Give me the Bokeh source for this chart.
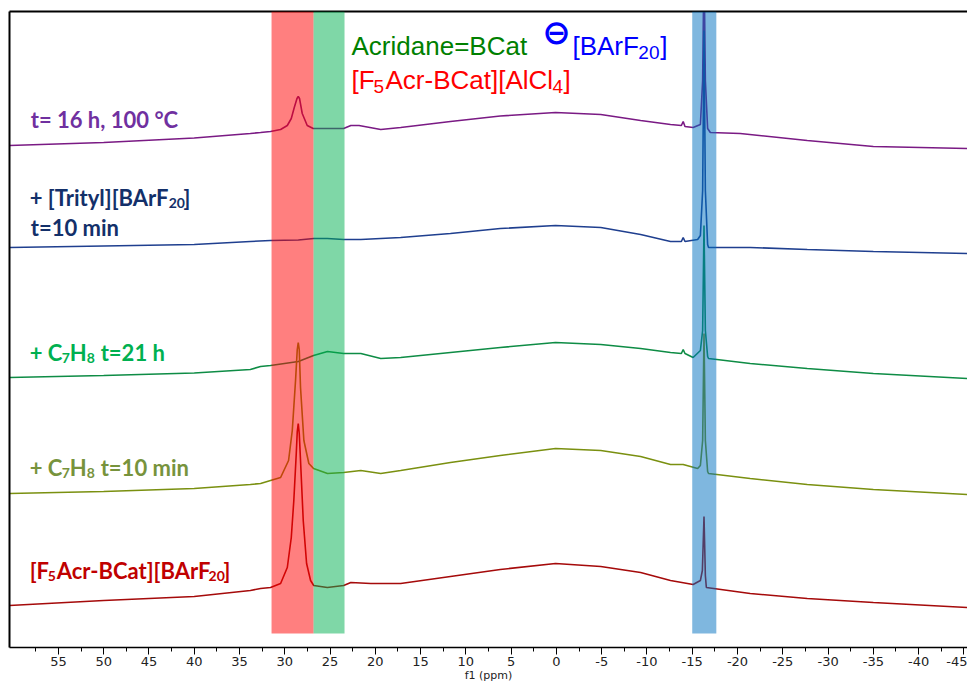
from bokeh.plotting import figure
from bokeh.models import (Range1d, LinearAxis, FixedTicker, BoxAnnotation, Label)
from bokeh.embed import file_html
from bokeh.resources import INLINE

# 11B NMR stack (chemical shift in ppm, stacked intensity in display units)

# t = 16 h, 100 °C
ppm_16h = [60.4, 50, 40, 33.8, 32.67, 31.57, 30.46, 29.72, 29.28, 28.95, 28.65, 28.51, 28.37,
           28.07, 27.52, 26.86, 25.3, 23.5, 22.7, 21.8, 19.4, 17.2, 11.7, 6.2, 0.1, -4.9,
           -9.3, -12.6, -13.8, -14.0, -14.2, -15.1, -15.9, -16.15, -16.3, -16.45, -16.7,
           -17.0, -20.3, -27.7, -35.0, -45.4]
int_16h = [502, 505, 509.5, 514, 515, 516, 518, 522, 529, 540, 549, 551, 549,
           534, 522, 519, 519, 519, 522, 522, 518, 520, 526, 531.5, 535, 533,
           527, 523, 522, 526, 521, 520, 523, 567, 687, 567, 519,
           515, 514, 507, 501, 499]

# + [Trityl][BArF20], t = 10 min
ppm_trityl = [60.4, 50, 40, 33.8, 31.57, 28.5, 26.8, 25.3, 23.5, 21.6, 17.2, 11.7, 6.2, 0.1,
              -4.9, -9.3, -12.6, -13.8, -14.0, -14.2, -15.6, -15.9, -16.15, -16.3, -16.45,
              -16.7, -16.8, -21.4, -27.7, -35.0, -45.4]
int_trityl = [400, 401.5, 403, 406, 407, 407.5, 409, 409, 408, 408, 410, 414, 419, 422,
              420, 413, 406, 406, 410, 406, 408, 412, 457, 617, 457,
              403, 400, 400, 398, 396, 394]

# + C7H8, t = 21 h
ppm_21h = [60.4, 50, 40, 33.8, 32.67, 31.57, 28.5, 26.82, 25.28, 23.5, 21.6, 19.4, 17.2, 11.7,
           6.2, 0.1, -4.9, -9.3, -12.6, -13.8, -14.0, -14.2, -15.1, -15.9, -16.15, -16.3,
           -16.45, -16.7, -16.8, -21.4, -27.7, -35.0, -45.4]
int_21h = [270, 272, 274.5, 278, 281, 282, 286, 292, 296, 294, 294, 289, 290, 295,
           300, 305, 303, 299, 295, 294, 298, 294, 290, 297, 317, 422,
           317, 291, 289, 284, 279, 274, 269]

# + C7H8, t = 10 min
ppm_10min = [60.4, 50, 40, 33.8, 32.67, 31.57, 30.46, 29.58, 29.17, 28.81, 28.62, 28.51, 28.4,
             28.26, 27.89, 27.34, 26.82, 25.28, 23.5, 21.6, 19.4, 17.2, 11.7, 6.2, 0.1, -4.9,
             -9.3, -12.6, -14.0, -15.6, -15.9, -16.15, -16.3, -16.45, -16.7, -16.8, -21.4,
             -27.7, -35.0, -45.4]
int_10min = [154, 156, 159, 163, 164, 167, 170, 187, 217, 267, 298, 305, 298,
             260, 207, 184, 179, 174, 175, 177, 174, 177, 185, 192, 199, 197,
             191, 183, 183, 179, 182, 207, 314, 207, 176, 174, 169,
             163, 158, 153]

# [F5Acr-BCat][BArF20]
ppm_start = [60.4, 50, 40, 33.8, 32.67, 31.57, 30.46, 29.72, 29.28, 29.0, 28.73, 28.62, 28.51,
             28.4, 28.26, 27.96, 27.59, 27.15, 26.8, 25.3, 23.5, 22.7, 20.5, 17.2, 11.7, 6.2,
             0.1, -4.9, -9.3, -12.6, -15.1, -15.9, -16.12, -16.3, -16.45, -16.56, -21.4,
             -27.7, -35.0, -45.4]
int_start = [42, 47, 51, 57, 59, 60, 64, 80, 110, 147, 194, 216, 224,
             214, 187, 127, 84, 67, 62, 60, 62, 65, 64, 64, 71, 78,
             84, 81, 75, 67, 63, 67, 77, 131, 72, 60, 54,
             49, 45, 40]

# highlighted shift regions (ppm)
band_cation = (31.46, 26.82)
band_acridane = (26.82, 23.4)
band_borate = (-15.0, -17.66)

# axis ticks (ppm)
major_ticks = list(range(-45, 60, 5))
minor_ticks = [t + 2.5 for t in range(-45, 60, 5)]

traces = [
    (ppm_16h, int_16h, "#7A1A84"),
    (ppm_trityl, int_trityl, "#1F3F8F"),
    (ppm_21h, int_21h, "#0E8C45"),
    (ppm_10min, int_10min, "#7A9010"),
    (ppm_start, int_start, "#A50A0A"),
]

p = figure(width=967, height=685, output_backend="svg", toolbar_location=None,
           x_range=Range1d(60.4, -45.4), y_range=Range1d(0, 636),
           min_border_left=9, min_border_right=0, min_border_top=11, min_border_bottom=38)
p.grid.visible = False
p.outline_line_color = None

for xs, ys, col in traces:
    p.line(xs, ys, line_color=col, line_width=1.6)

band_bottom = 14
for (lo, hi), col in [(band_cation, "#FF0000"), (band_acridane, "#00B050"), (band_borate, "#0070C0")]:
    p.add_layout(BoxAnnotation(left=hi, right=lo, bottom=band_bottom, fill_color=col,
                               fill_alpha=0.5, line_color=None))

# x axis
xa = p.xaxis[0]
xa.ticker = FixedTicker(ticks=major_ticks, minor_ticks=minor_ticks)
xa.major_label_overrides = {t: str(t) for t in major_ticks}
xa.axis_label = "f1 (ppm)"
xa.axis_label_text_font = "DejaVu Sans"
xa.axis_label_text_font_style = "normal"
xa.axis_label_text_font_size = "11px"
xa.axis_label_text_color = "#222222"
xa.axis_label_standoff = 0
xa.major_label_text_font = "DejaVu Sans"
xa.major_label_text_font_size = "13px"
xa.major_label_text_color = "#222222"
xa.major_label_standoff = 2
xa.major_tick_out = 7
xa.major_tick_in = 0
xa.minor_tick_out = 4
xa.minor_tick_in = 0
xa.axis_line_width = 1.5

# plain frame lines on left and top
ya = p.yaxis[0]
ya.ticker = FixedTicker(ticks=[])
ya.major_label_text_font_size = "0px"
ya.major_tick_out = 0
ya.major_tick_in = 0
ya.minor_tick_out = 0
ya.minor_tick_in = 0
ya.major_label_standoff = 0
ya.axis_line_width = 2

top = LinearAxis(ticker=FixedTicker(ticks=[]), major_label_text_font_size="0px",
                 major_tick_out=0, major_tick_in=0, minor_tick_out=0, minor_tick_in=0,
                 major_label_standoff=0, axis_line_width=2)
p.add_layout(top, "above")


def text_at(txt, x_px, base_px, size, color, font, style="normal"):
    """Place a text run by its left edge and baseline in canvas pixels."""
    x = (556 - x_px) / 9.06
    y = 647 - base_px + 0.36 * size
    p.add_layout(Label(x=x, y=y, text=txt, text_color=color, text_font=font,
                       text_font_style=style, text_font_size=f"{size}px",
                       text_baseline="alphabetic"))


def caption(runs, base_px, color):
    """Bold caption made of (text, left_px, is_subscript) runs."""
    for txt, x_px, sub in runs:
        if sub:
            text_at(txt, x_px, base_px + 3, 14, color, "Lato", "bold")
        else:
            text_at(txt, x_px, base_px, 22, color, "Lato", "bold")


caption([("t= 16 h, 100 °C", 30, False)], 127, "#7030A0")
caption([("+ [Trityl][BArF", 29, False), ("20", 168, True), ("]", 183, False)], 205, "#13306A")
caption([("t=10 min", 30, False)], 235, "#13306A")
caption([("+ C", 29, False), ("7", 61, True), ("H", 69, False), ("8", 86, True),
         ("t=21 h", 100, False)], 360, "#00B050")
caption([("+ C", 29, False), ("7", 61, True), ("H", 69, False), ("8", 86, True),
         ("t=10 min", 100, False)], 475, "#77933C")
caption([("[F", 29, False), ("5", 47, True), ("Acr-BCat][BArF", 56, False), ("20", 208, True),
         ("]", 223, False)], 578, "#C00000")

# species legend
LEG = "Liberation Sans"
text_at("Acridane=BCat", 351, 55, 26, "#008000", LEG)
p.add_layout(Label(x=(556 - 556) / 9.06, y=647 - 31, text="⊖", text_color="#0000FF",
                   text_align="center", text_font="DejaVu Sans", text_font_style="bold",
                   text_font_size="34px", text_baseline="middle"))
text_at("[BArF", 572, 55, 26, "#0000FF", LEG)
text_at("20", 638, 59, 19, "#0000FF", LEG)
text_at("]", 660, 55, 26, "#0000FF", LEG)
text_at("[F", 351, 89, 26, "#FF0000", LEG)
text_at("5", 373, 93, 19, "#FF0000", LEG)
text_at("Acr-BCat][AlCl", 385, 89, 26, "#FF0000", LEG)
text_at("4", 552, 93, 19, "#FF0000", LEG)
text_at("]", 563, 89, 26, "#FF0000", LEG)

open("out.html", "w").write(file_html(p, INLINE))
